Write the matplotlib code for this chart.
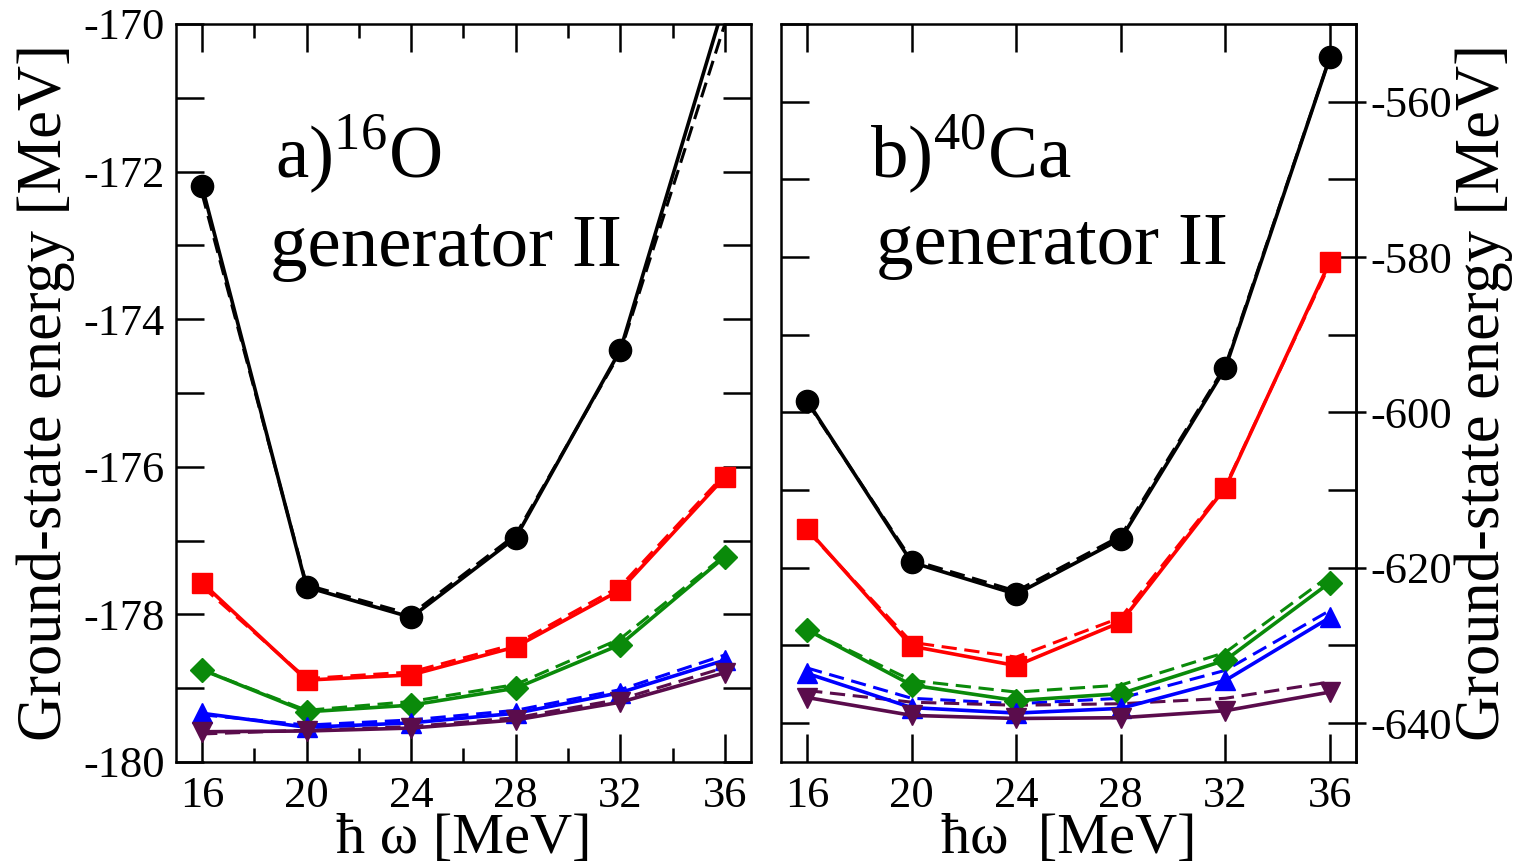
import numpy as np
import matplotlib
matplotlib.use("Agg")
import matplotlib.pyplot as plt
from matplotlib.ticker import MultipleLocator

plt.rcParams['font.family'] = ['Liberation Serif', 'DejaVu Serif']
plt.rcParams['mathtext.fontset'] = 'custom'
plt.rcParams['mathtext.rm'] = 'Liberation Serif'
plt.rcParams['axes.unicode_minus'] = False

# hbar*omega values [MeV]
hw = [16, 20, 24, 28, 32, 36]

# a) 16O, generator II  (solid / dashed)
o16_black = [-172.20, -177.63, -178.04, -176.96, -174.42, -169.70]
o16_black_d = [-172.30, -177.60, -178.00, -176.92, -174.45, -170.00]
o16_red = [-177.57, -178.89, -178.82, -178.44, -177.67, -176.14]
o16_red_d = [-177.62, -178.87, -178.78, -178.40, -177.62, -176.10]
o16_green = [-178.75, -179.32, -179.23, -179.00, -178.41, -177.22]
o16_green_d = [-178.75, -179.30, -179.18, -178.95, -178.33, -177.20]
o16_blue = [-179.34, -179.53, -179.47, -179.34, -179.06, -178.62]
o16_blue_d = [-179.36, -179.50, -179.43, -179.30, -179.02, -178.55]
o16_purple = [-179.59, -179.58, -179.54, -179.43, -179.19, -178.79]
o16_purple_d = [-179.62, -179.57, -179.52, -179.40, -179.15, -178.72]

# b) 40Ca, generator II
ca40_black = [-598.5, -619.3, -623.4, -616.3, -594.3, -554.3]
ca40_black_d = [-598.7, -619.0, -623.0, -615.9, -594.0, -554.3]
ca40_red = [-615.0, -630.1, -632.6, -627.0, -609.7, -580.6]
ca40_red_d = [-615.2, -629.6, -631.5, -626.4, -609.5, -580.9]
ca40_green = [-628.0, -635.1, -637.1, -636.2, -631.9, -621.9]
ca40_green_d = [-628.0, -634.5, -636.0, -635.1, -630.9, -621.0]
ca40_blue = [-633.6, -638.0, -638.7, -638.1, -634.5, -626.4]
ca40_blue_d = [-632.9, -636.8, -637.5, -636.8, -633.2, -625.5]
ca40_purple = [-636.7, -639.0, -639.4, -639.3, -638.4, -636.0]
ca40_purple_d = [-635.8, -637.3, -637.7, -637.5, -636.8, -634.7]

colors = ['black', '#ff0000', '#0a8a0a', '#0000ff', '#5a0c4c']
markers = ['o', 's', 'D', '^', 'v']
msizes = [16, 15, 12, 15, 15]

o16_solid = [o16_black, o16_red, o16_green, o16_blue, o16_purple]
o16_dash = [o16_black_d, o16_red_d, o16_green_d, o16_blue_d, o16_purple_d]
ca40_solid = [ca40_black, ca40_red, ca40_green, ca40_blue, ca40_purple]
ca40_dash = [ca40_black_d, ca40_red_d, ca40_green_d, ca40_blue_d, ca40_purple_d]

fig = plt.figure(figsize=(15.18, 8.66), dpi=100)
axL = fig.add_axes([0.1159, 0.1201, 0.3788, 0.8522])
axR = fig.add_axes([0.5145, 0.1201, 0.3788, 0.8522])


def draw(ax, solid, dash):
    for s, d, c, m, ms in zip(solid, dash, colors, markers, msizes):
        ax.plot(hw, d, '--', color=c, lw=2.2, dashes=(5, 2.5), zorder=2)
        ax.plot(hw, s, '-', color=c, lw=2.6, marker=m, ms=ms, zorder=3)
    ax.set_xlim(15, 37)
    for sp in ax.spines.values():
        sp.set_linewidth(1.8)


draw(axL, o16_solid, o16_dash)
draw(axR, ca40_solid, ca40_dash)

# left panel axes
axL.set_ylim(-180, -170)
axL.xaxis.set_major_locator(MultipleLocator(4))
axL.xaxis.set_minor_locator(MultipleLocator(2))
axL.yaxis.set_major_locator(MultipleLocator(2))
axL.yaxis.set_minor_locator(MultipleLocator(1))
axL.tick_params(which='both', direction='in', top=True, right=True, width=1.8, labelsize=32)
axL.tick_params(axis='x', which='major', length=20, pad=10)
axL.tick_params(axis='x', which='minor', length=10)
axL.tick_params(axis='y', which='both', length=20, pad=8)
axL.set_xlabel('ħ ω [MeV]', fontsize=42, labelpad=-2)
axL.set_ylabel('Ground-state energy [MeV]', fontsize=45, labelpad=6)
axL.text(0.172, 0.791, r'a)$^{16}$O', transform=axL.transAxes, fontsize=54)
axL.text(0.163, 0.672, 'generator II', transform=axL.transAxes, fontsize=54)

# right panel axes
axR.set_ylim(-645, -550)
axR.xaxis.set_major_locator(MultipleLocator(4))
axR.yaxis.set_major_locator(MultipleLocator(10))
axR.tick_params(which='both', direction='in', top=True, right=True, labelleft=False,
                width=1.8, labelsize=32)
axR.tick_params(axis='x', length=20, pad=10)
axR.tick_params(axis='y', length=20)
axR.set_xlabel('ħω  [MeV]', fontsize=42, labelpad=-2)
axR.text(0.155, 0.791, r'b)$^{40}$Ca', transform=axR.transAxes, fontsize=54)
axR.text(0.165, 0.675, 'generator II', transform=axR.transAxes, fontsize=54)

sec = axR.secondary_yaxis('right')
sec.set_yticks([-560, -580, -600, -620, -640])
sec.tick_params(direction='out', length=7, width=1.8, labelsize=32, pad=3)
sec.spines['right'].set_linewidth(1.8)
sec.set_ylabel('Ground-state energy [MeV]', fontsize=45, labelpad=2)

fig.savefig('out.png', dpi=100)
